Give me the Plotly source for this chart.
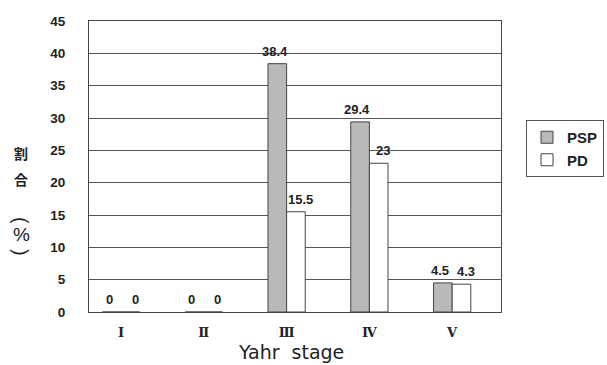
import plotly.graph_objects as go

categories = ["Ⅰ", "Ⅱ", "Ⅲ", "Ⅳ", "Ⅴ"]
psp_values = [0, 0, 38.4, 29.4, 4.5]
pd_values = [0, 0, 15.5, 23, 4.3]
y_ticks = [0, 5, 10, 15, 20, 25, 30, 35, 40, 45]

W, H = 607, 365
ML, MR, MT, MB = 89, 106, 21, 53
PW, PH = W - ML - MR, H - MT - MB


def px_to_paper(px, py):
    return (px - ML) / PW, (H - MB - py) / PH


fig = go.Figure()
fig.add_trace(go.Bar(
    name="PSP", x=categories, y=psp_values,
    marker=dict(color="#b9b9b9", line=dict(color="#444", width=1)),
))
fig.add_trace(go.Bar(
    name="PD", x=categories, y=pd_values,
    marker=dict(color="#ffffff", line=dict(color="#444", width=1)),
))

anns = []
label_font = dict(family="Liberation Sans", size=13, color="#222", weight="bold")
for vals, xs in [(psp_values, -12), (pd_values, 14)]:
    for c, v in zip(categories, vals):
        anns.append(dict(text=f"{v:g}", x=c, y=v, xref="x", yref="y",
                         xanchor="center", yanchor="bottom", xshift=xs, yshift=3,
                         showarrow=False, font=label_font))

ax, ay = px_to_paper(291, 352)
anns.append(dict(text="Yahr  stage", x=ax, y=ay, xref="paper", yref="paper",
                 xanchor="center", yanchor="middle", showarrow=False,
                 font=dict(family="DejaVu Sans", size=19, color="#222")))
for ch, py, sz, ang in [("割", 153, 14, 0), ("合", 179, 14, 0), ("(", 220, 20, 90),
                        ("%", 234, 19, 0), (")", 252, 20, 90)]:
    cx, cy = px_to_paper(21, py)
    cjk = ch in "割合"
    anns.append(dict(text=ch, x=cx, y=cy, xref="paper", yref="paper",
                     xanchor="center", yanchor="middle", showarrow=False, textangle=ang,
                     font=dict(family="Noto Sans CJK JP" if cjk else "Liberation Sans",
                               size=sz, color="#222", weight="bold" if cjk else "normal")))

lx, ly = px_to_paper(526, 120)

fig.update_layout(
    width=W, height=H,
    margin=dict(l=ML, r=MR, t=MT, b=MB, autoexpand=False),
    paper_bgcolor="white", plot_bgcolor="white",
    barmode="group", bargap=0.55, bargroupgap=0,
    showlegend=True,
    legend=dict(
        x=lx, y=ly, xanchor="left", yanchor="top",
        bordercolor="#555", borderwidth=1, bgcolor="white",
        font=dict(family="Liberation Sans", size=15, color="#222", weight="bold"),
        tracegroupgap=0, itemwidth=30,
    ),
    xaxis=dict(
        type="category", range=[-0.387, 4.59],
        showline=True, linecolor="#444", linewidth=1, mirror=True,
        ticks="", showgrid=False,
        tickfont=dict(family="DejaVu Serif", size=13, color="#222", weight="bold"),
        ticklabelstandoff=8,
    ),
    yaxis=dict(
        range=[0, 45], tickvals=y_ticks,
        showline=True, linecolor="#444", linewidth=1, mirror=True,
        showgrid=True, gridcolor="#555", gridwidth=1,
        zeroline=False, ticks="",
        tickfont=dict(family="Liberation Sans", size=13.5, color="#222", weight="bold"),
        ticklabelstandoff=20,
    ),
    annotations=anns,
)

fig.write_html("out.html")
